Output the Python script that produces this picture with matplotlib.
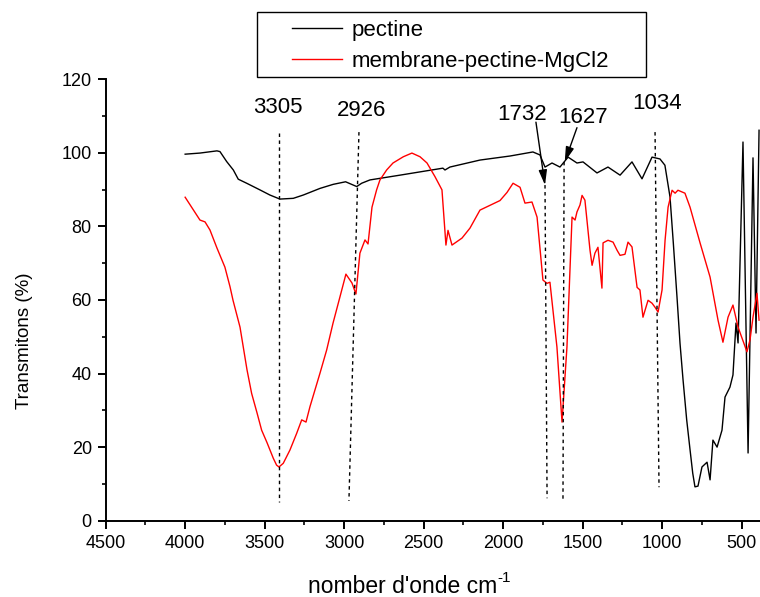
import matplotlib
matplotlib.use("Agg")
import matplotlib.pyplot as plt
from matplotlib.patches import Rectangle
from matplotlib.lines import Line2D
from matplotlib.ticker import MultipleLocator

plt.rcParams["font.family"] = ["Liberation Sans", "DejaVu Sans"]

# spectre pectine (nombre d'onde cm-1, transmission %)
pectine_wn = [4000, 3907, 3800, 3781, 3739, 3697, 3666, 3613, 3530, 3467, 3404, 3320,
              3257, 3152, 3069, 2991, 2921, 2890, 2838, 2649, 2379, 2366, 2335, 2146,
              1957, 1813, 1769, 1737, 1693, 1643, 1592, 1536, 1498, 1410, 1341, 1265,
              1190, 1127, 1064, 1014, 983, 951, 930, 907, 888, 869, 846, 825, 808, 794,
              775, 750, 718, 699, 681, 655, 624, 605, 574, 555, 536, 523, 492, 460, 429,
              410, 391]
pectine_t = [99.6, 99.9, 100.5, 100.3, 97.6, 95.3, 92.8, 91.7, 89.9, 88.5, 87.4, 87.6,
             88.5, 90.3, 91.4, 92.1, 90.8, 91.7, 92.6, 93.9, 95.8, 95.3, 96.1, 98.0,
             99.1, 100.2, 99.4, 96.1, 97.2, 96.1, 98.8, 97.2, 97.5, 94.5, 96.1, 93.9,
             97.5, 92.9, 98.8, 98.3, 96.6, 88.0, 75.4, 60.8, 48.2, 38.3, 27.4, 19.3, 12.9, 9.2,
             9.4, 14.6, 15.9, 11.1, 21.9, 20.0, 24.6, 33.6, 36.3, 39.6, 53.7, 48.3, 102.9,
             18.4, 98.6, 51.0, 106.1]

# spectre membrane-pectine-MgCl2
membrane_wn = [4000, 3907, 3875, 3844, 3800, 3750, 3718, 3699, 3655, 3611, 3582, 3548,
               3519, 3485, 3446, 3425, 3410, 3383, 3341, 3299, 3267, 3240, 3215, 3152,
               3110, 3070, 3026, 2989, 2951, 2926, 2901, 2869, 2850, 2825, 2796, 2775,
               2733, 2693, 2628, 2574, 2523, 2479, 2429, 2385, 2360, 2347, 2322, 2259,
               2209, 2146, 2083, 2020, 1976, 1938, 1894, 1863, 1819, 1787, 1750, 1725,
               1706, 1662, 1630, 1599, 1567, 1548, 1536, 1517, 1504, 1486, 1454, 1441,
               1423, 1404, 1379, 1372, 1341, 1309, 1284, 1265, 1234, 1215, 1190, 1158,
               1140, 1121, 1089, 1064, 1045, 1026, 1001, 982, 963, 938, 919, 901, 857,
               825, 762, 699, 649, 618, 586, 555, 523, 467, 448, 429, 404, 391]
membrane_t = [87.9, 81.7, 81.2, 79.0, 74.1, 68.9, 63.6, 59.9, 52.6, 41.0, 34.6, 29.3,
              24.6, 21.2, 17.0, 15.1, 14.6, 15.6, 19.2, 23.7, 27.4, 26.8, 31.0, 40.1,
              46.4, 53.7, 60.9, 67.0, 64.6, 61.6, 72.7, 76.3, 75.2, 85.2, 89.9, 92.6,
              95.3, 97.2, 98.9, 99.9, 98.9, 97.2, 93.5, 89.9, 74.9, 78.9, 74.9, 76.8,
              79.5, 84.4, 85.7, 87.0, 89.2, 91.7, 90.6, 86.3, 86.6, 82.5, 65.4, 64.5,
              64.8, 47.2, 26.8, 47.2, 82.5, 81.7, 83.9, 85.8, 88.4, 87.1, 73.5, 69.4,
              72.7, 74.3, 63.2, 75.5, 76.2, 75.7, 73.5, 72.1, 72.4, 75.7, 74.4, 63.4,
              62.7, 55.3, 59.9, 59.1, 58.0, 56.7, 62.7, 76.2, 85.2, 89.8, 89.0, 89.8, 89.0,
              85.2, 75.5, 66.2, 54.5, 48.5, 55.3, 58.6, 52.6, 45.9, 49.1, 55.3, 61.8, 54.5]

fig = plt.figure(figsize=(7.6, 5.97), dpi=100)
ax = fig.add_axes([0.139, 0.1278, 0.861, 0.7397])

ax.plot(pectine_wn, pectine_t, color="black", lw=1.0)
ax.plot(membrane_wn, membrane_t, color="#ff0000", lw=1.0)

ax.set_xlim(4500, 385)
ax.set_ylim(0, 120)
ax.xaxis.set_major_locator(MultipleLocator(500))
ax.xaxis.set_minor_locator(MultipleLocator(250))
ax.yaxis.set_major_locator(MultipleLocator(20))
ax.yaxis.set_minor_locator(MultipleLocator(10))
for s in ["top", "right"]:
    ax.spines[s].set_visible(False)
for s in ["left", "bottom"]:
    ax.spines[s].set_linewidth(1.4)
ax.tick_params(which="major", direction="out", length=6, width=1.4, labelsize=13, pad=4)
ax.tick_params(which="minor", direction="out", length=3, width=1.2)

# bandes
dots = dict(color="black", lw=1.0, ls=(0, (2.5, 2.5)))
ax.plot([3408, 3408], [105.4, 5.1], **dots)
ax.plot([2907, 2970], [105.6, 5.4], **dots)
ax.plot([1737, 1724], [91.2, 6.1], **dots)
ax.plot([1617, 1624], [97.5, 5.6], **dots)
ax.plot([1045, 1020], [105.6, 9.1], **dots)

ax.text(3416, 112.4, "3305", fontsize=16, ha="center", va="center")
ax.text(2888, 111.5, "2926", fontsize=16, ha="center", va="center")
ax.text(1033, 113.5, "1034", fontsize=16, ha="center", va="center")
arrow = dict(arrowstyle="-|>,head_length=0.9,head_width=0.25", color="black", lw=1.0,
             shrinkA=0, shrinkB=0)
ax.annotate("", xy=(1737, 91.2), xytext=(1794, 108.3), arrowprops=arrow)
ax.text(1882, 110.4, "1732", fontsize=16, ha="center", va="center")
ax.annotate("", xy=(1613, 97.5), xytext=(1536, 106.8), arrowprops=arrow)
ax.text(1498, 109.6, "1627", fontsize=16, ha="center", va="center")

fig.text(308 / 760, 1 - 593 / 597, "nomber d'onde cm", fontsize=16.5, ha="left",
         va="baseline")
fig.text(497 / 760, 1 - 582 / 597, "-1", fontsize=11, ha="left", va="baseline")
fig.text(0.032, 0.43, "Transmitons (%)", fontsize=13.5, ha="center", va="center",
         rotation=90)

# legende
fig.patches.append(Rectangle((257 / 760, 1 - 77 / 597), (646 - 257) / 760, 65 / 597,
                             transform=fig.transFigure, fill=False, edgecolor="black",
                             lw=1.0))
handles = [Line2D([], [], color="black", lw=1.0),
           Line2D([], [], color="#ff0000", lw=1.0)]
fig.legend(handles, ["pectine", "membrane-pectine-MgCl2"], loc="upper left",
           bbox_to_anchor=(292 / 760, 1 - 20 / 597), frameon=False, fontsize=16,
           borderpad=0, borderaxespad=0, handlelength=2.25, handletextpad=0.45,
           labelspacing=0.45)

fig.savefig("out.png", dpi=100)
